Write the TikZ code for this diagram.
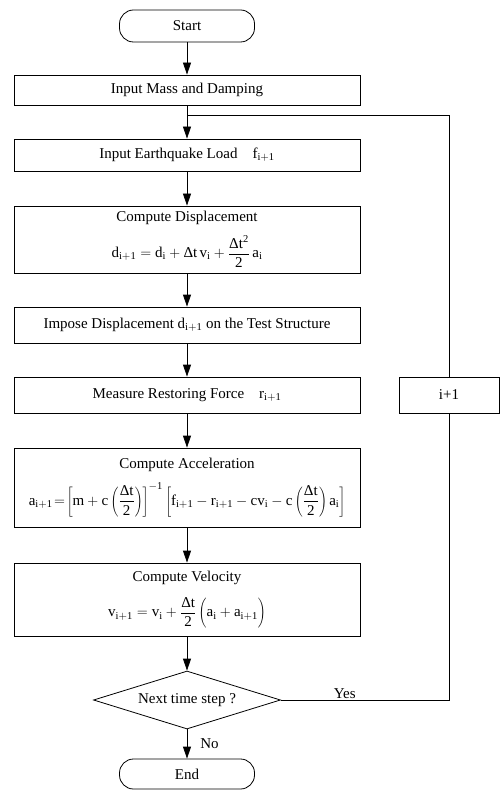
\documentclass[tikz,border=0pt]{standalone}
\usepackage{fontspec}
\setmainfont{Liberation Serif}
\usepackage{tikz}
\usetikzlibrary{arrows.meta,positioning,shapes.geometric,calc}
\newcommand{\dlt}{\mbox{Δ}t}
\tikzset{
  box/.style={draw,line width=0.8pt,align=center,minimum width=346pt,inner sep=0pt},
  term/.style={draw,line width=0.8pt,rounded corners=14pt,minimum width=135pt,inner sep=0pt},
  dec/.style={draw,line width=0.8pt,diamond,aspect=3.2,minimum width=187pt,minimum height=58pt,inner sep=0pt},
  arr/.style={-{Triangle[length=12pt,width=8pt]},line width=0.8pt},
  lnk/.style={line width=0.8pt},
  lbl/.style={inner sep=1pt}
}
\begin{document}
\begin{tikzpicture}[x=1pt,y=-1pt,font=\fontsize{15}{18}\selectfont]
    \useasboundingbox (0,0) rectangle (500,791);
    \node[term,minimum height=32pt] (start) at (187,26) {Start};
    \node[box,minimum height=30pt] (mass) at (187,90) {Input Mass and Damping};
    \node[box,minimum height=32pt] (quake) at (187,155) {Input Earthquake Load\quad $\mathrm{f_{i+1}}$};
    \node[box,minimum height=67pt] (disp) at (187,239.5)
      {Compute Displacement\\[10pt]$\displaystyle\mathrm{d_{i+1}= d_i + \dlt\,v_i + \frac{\dlt^2}{2}\,a_i}$};
    \node[box,minimum height=36pt] (impose) at (187,325) {Impose Displacement $\mathrm{d_{i+1}}$ on the Test Structure};
    \node[box,minimum height=36pt] (measure) at (187,395) {Measure Restoring Force\quad $\mathrm{r_{i+1}}$};
    \node[box,minimum height=79pt] (accel) at (187,487.5)
      {Compute Acceleration\\[10pt]$\displaystyle\mathrm{a_{i+1}\!=\!\left[m+c\left(\frac{\dlt}{2}\right)\right]^{-1}\left[f_{i+1}-r_{i+1}-cv_i-c\left(\frac{\dlt}{2}\right)a_i\right]}$};
    \node[box,minimum height=73pt] (veloc) at (187,599.5)
      {Compute Velocity\\[12pt]$\displaystyle\mathrm{v_{i+1}= v_i + \frac{\dlt}{2}\left(\vphantom{\frac{\dlt}{2}}a_i + a_{i+1}\right)}$};
    \node[dec] (next) at (187,700) {Next time step ?};
    \node[term,minimum height=30pt] (end) at (187,774) {End};
    \node[draw,line width=0.8pt,minimum width=100pt,minimum height=36pt,inner sep=0pt] (inc) at (449,395) {i+1};
    \coordinate (join) at (187,115);
    \foreach \a/\b in {start/mass,mass/quake,quake/disp,disp/impose,impose/measure,measure/accel,accel/veloc,veloc/next}
      \draw[arr] (\a) -- (\b);
    \draw[arr] (next) -- node[lbl,right=12pt]{No} (end);
    \draw[lnk] (next.east) -- node[lbl,above,pos=0.38]{Yes} (next.east -| inc) -- (inc.south);
    \draw[lnk] (inc.north) |- (join);
  \end{tikzpicture}
\end{document}
